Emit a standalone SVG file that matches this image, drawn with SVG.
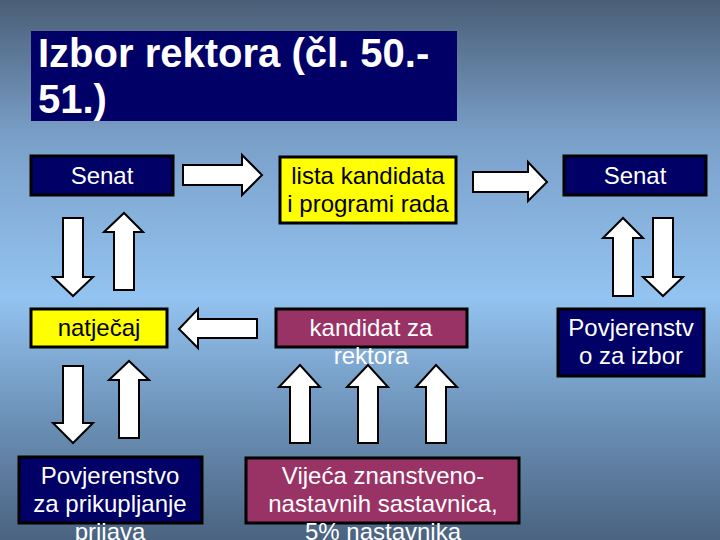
<svg xmlns="http://www.w3.org/2000/svg" width="720" height="540" viewBox="0 0 720 540">
<defs>
<linearGradient id="bg" x1="0" y1="0" x2="0" y2="1">
<stop offset="0" stop-color="#4a5e76"/>
<stop offset="0.25" stop-color="#799fc8"/>
<stop offset="0.55" stop-color="#93c3f0"/>
<stop offset="0.78" stop-color="#6b90b6"/>
<stop offset="1" stop-color="#4a6380"/>
</linearGradient>
<style>
.navy{fill:#000066;stroke:#000;stroke-width:3}
.yel{fill:#ffff00;stroke:#000;stroke-width:3}
.mar{fill:#993366;stroke:#000;stroke-width:3}
.arr{fill:#fff;stroke:#000;stroke-width:2;stroke-linejoin:miter}
text{font-family:"Liberation Sans",Arial,sans-serif;font-size:24px;text-anchor:middle}
.w{fill:#fff}
.k{fill:#000}
.title{font-size:40px;font-weight:bold;text-anchor:start;fill:#fff}
</style>
</defs>
<rect x="0" y="0" width="720" height="540" fill="url(#bg)"/>
<g id="title">
<rect x="31" y="31" width="426" height="90" fill="#000066"/>
<text class="title" x="38" y="67">Izbor rektora (čl. 50.-</text>
<text class="title" x="38" y="113">51.)</text>
</g>
<g id="connectors">
<polygon class="arr" points="183,165 242,165 242,155 262,175 242,195 242,185 183,185"/>
<polygon class="arr" points="473,172 528,172 528,162 547,182 528,201 528,192 473,192"/>
<polygon class="arr" points="257,319 198,319 198,309 179,329 198,348 198,338 257,338"/>
<polygon class="arr" points="63,218 83,218 83,277 93,277 73,296 53,277 63,277"/>
<polygon class="arr" points="114,290 134,290 134,232 143,232 124,213 104,232 114,232"/>
<polygon class="arr" points="613,296 633,296 633,238 643,238 623,218 603,238 613,238"/>
<polygon class="arr" points="653,218 673,218 673,277 683,277 663,296 643,277 653,277"/>
<polygon class="arr" points="63,366 83,366 83,423 93,423 73,443 53,423 63,423"/>
<polygon class="arr" points="119,438 139,438 139,380 149,380 129,361 109,380 119,380"/>
<polygon class="arr" points="290,443 310,443 310,387 320,387 300,365 279,387 290,387"/>
<polygon class="arr" points="358,443 378,443 378,387 388,387 368,365 347,387 358,387"/>
<polygon class="arr" points="426,443 446,443 446,387 457,387 436,365 416,387 426,387"/>
</g>
<g id="senat1">
<rect class="navy" x="31" y="156" width="142" height="39"/>
<text class="w" x="102" y="184">Senat</text>
</g>
<g id="lista">
<rect class="yel" x="280" y="157" width="176" height="66"/>
<text class="k" x="368" y="184">lista kandidata</text>
<text class="k" x="368" y="212">i programi rada</text>
</g>
<g id="senat2">
<rect class="navy" x="564" y="156" width="142" height="39"/>
<text class="w" x="635" y="184">Senat</text>
</g>
<g id="natjecaj">
<rect class="yel" x="31" y="309" width="136" height="38"/>
<text class="k" x="99" y="336">natječaj</text>
</g>
<g id="kandidat">
<rect class="mar" x="276" y="309" width="191" height="38"/>
<text class="w" x="371" y="336">kandidat za</text>
<text class="w" x="371" y="364">rektora</text>
</g>
<g id="povjerenstvo-izbor">
<rect class="navy" x="558" y="309" width="146" height="67"/>
<text class="w" x="631" y="336">Povjerenstv</text>
<text class="w" x="631" y="364">o za izbor</text>
</g>
<g id="povjerenstvo-prijava">
<rect class="navy" x="19" y="457" width="183" height="66"/>
<text class="w" x="110" y="484">Povjerenstvo</text>
<text class="w" x="110" y="512">za prikupljanje</text>
<text class="w" x="110" y="540">prijava</text>
</g>
<g id="vijeca">
<rect class="mar" x="246" y="458" width="273" height="65"/>
<text class="w" x="383" y="484">Vijeća znanstveno-</text>
<text class="w" x="383" y="512">nastavnih sastavnica,</text>
<text class="w" x="383" y="540">5% nastavnika</text>
</g>
</svg>
